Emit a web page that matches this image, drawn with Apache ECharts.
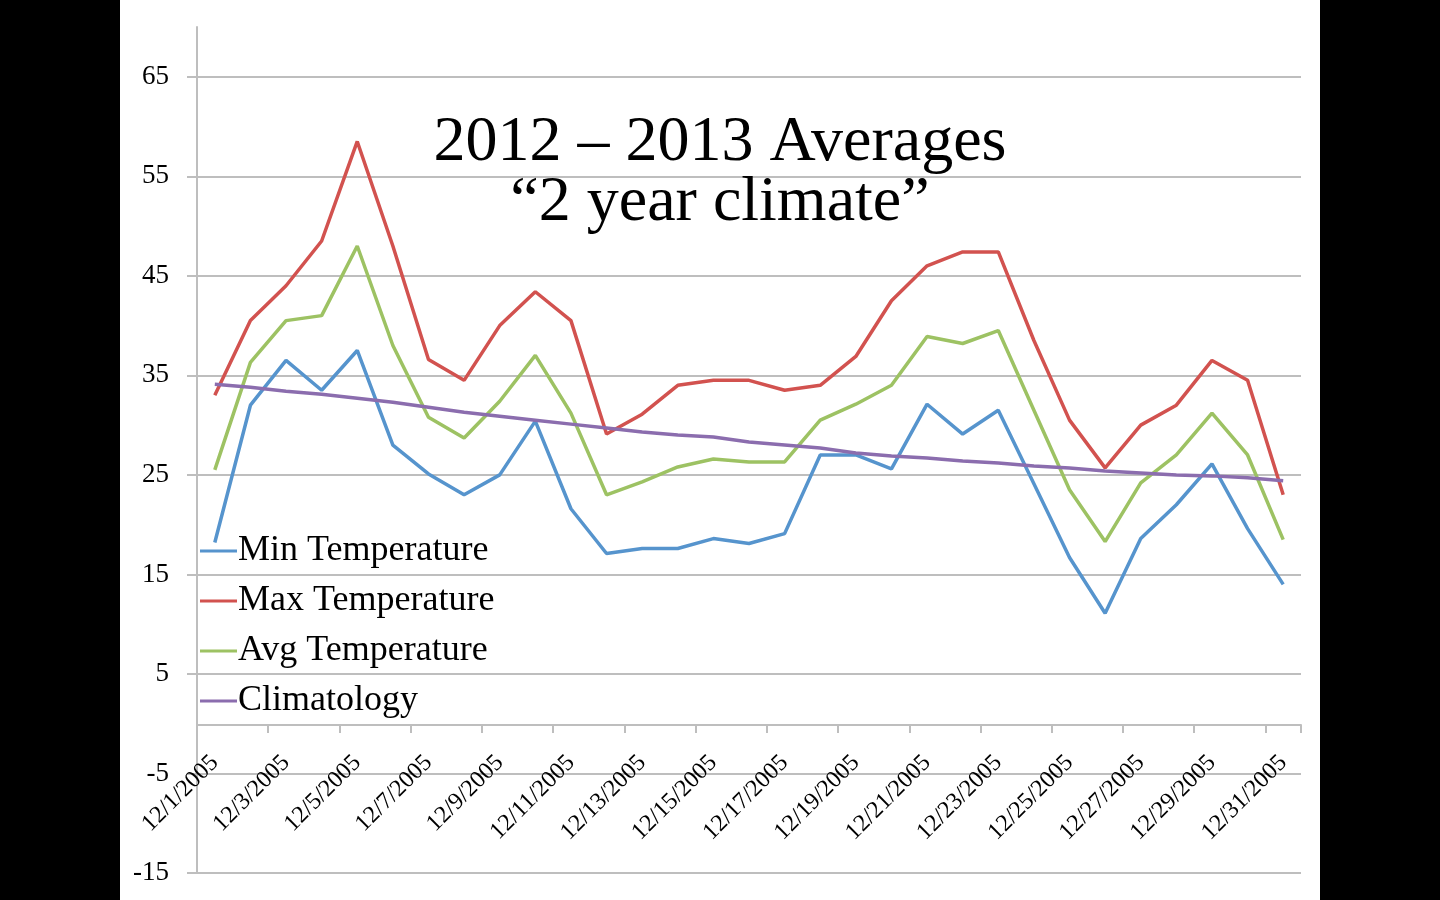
<!DOCTYPE html>
<html>
<head>
<meta charset="utf-8">
<script src="https://cdn.jsdelivr.net/npm/echarts@6/dist/echarts.min.js"></script>
<style>
html,body{margin:0;padding:0;background:#000;width:1440px;height:900px;overflow:hidden;}
#chart{position:absolute;left:120px;top:0;width:1200px;height:900px;background:#fff;}
</style>
</head>
<body>
<div id="chart"></div>
<script>
const categories = ["12/1/2005","12/2/2005","12/3/2005","12/4/2005","12/5/2005","12/6/2005","12/7/2005","12/8/2005","12/9/2005","12/10/2005","12/11/2005","12/12/2005","12/13/2005","12/14/2005","12/15/2005","12/16/2005","12/17/2005","12/18/2005","12/19/2005","12/20/2005","12/21/2005","12/22/2005","12/23/2005","12/24/2005","12/25/2005","12/26/2005","12/27/2005","12/28/2005","12/29/2005","12/30/2005","12/31/2005"];
const minTemp = [18.2,32,36.5,33.5,37.5,28,25.1,23,25,30.4,21.6,17.1,17.6,17.6,18.6,18.1,19.1,27,27,25.6,32.1,29.1,31.5,24.1,16.7,11.1,18.6,22,26.1,19.6,14];
const maxTemp = [33,40.5,44,48.5,58.5,48,36.6,34.5,40,43.4,40.5,29.1,31.1,34,34.5,34.5,33.5,34,36.9,42.5,46,47.4,47.4,38.5,30.5,25.7,30,32,36.5,34.5,23];
const avgTemp = [25.5,36.3,40.5,41,48,38,30.8,28.7,32.4,37,31.2,23,24.3,25.8,26.6,26.3,26.3,30.5,32.1,34,38.9,38.2,39.5,31.5,23.5,18.3,24.2,27,31.2,27,18.5];
const climatology = [34.1,33.8,33.4,33.1,32.7,32.3,31.8,31.3,30.9,30.5,30.1,29.7,29.3,29.0,28.8,28.3,28.0,27.7,27.2,26.9,26.7,26.4,26.2,25.9,25.7,25.4,25.2,25.0,24.9,24.7,24.4];
const seriesNames = ["Min Temperature","Max Temperature","Avg Temperature","Climatology"];
const titleText = "2012 – 2013 Averages\n“2 year climate”";

const font = "'Liberation Serif', 'DejaVu Serif', serif";
const colors = ["#5694CD","#D2524F","#9DC263","#8B6DAE"];
const chart = echarts.init(document.getElementById('chart'));
const dataSets = [minTemp, maxTemp, avgTemp, climatology];
chart.setOption({
  animation: false,
  color: colors,
  title: {
    text: titleText,
    left: 'center',
    top: 108,
    textStyle: {fontFamily: font, fontSize: 64, fontWeight: 'normal', color: '#000', lineHeight: 60}
  },
  legend: {
    orient: 'vertical',
    left: 80,
    top: 532,
    padding: 0,
    itemGap: 12,
    itemWidth: 37,
    itemHeight: 3,
    icon: 'rect',
    data: seriesNames,
    textStyle: {fontFamily: font, fontSize: 36, color: '#000', lineHeight: 38, padding: [0,0,0,-4]}
  },
  grid: {left: 77, right: 19, top: 27, bottom: 27, containLabel: false, outerBoundsMode: 'none'},
  xAxis: {
    type: 'category',
    data: categories,
    boundaryGap: true,
    position: 'bottom',
    offset: -148,
    axisLine: {onZero: false, lineStyle: {color: '#BEBEBE', width: 2}},
    axisTick: {show: true, interval: 1, length: 8, lineStyle: {color: '#BEBEBE', width: 2}},
    axisLabel: {interval: 1, rotate: 45, margin: 34, fontFamily: font, fontSize: 24, color: '#000'},
    splitLine: {show: false}
  },
  yAxis: {
    type: 'value',
    min: -15,
    max: 70,
    interval: 10,
    axisLine: {show: true, lineStyle: {color: '#BEBEBE', width: 2}},
    axisTick: {show: true, inside: false, length: 10, lineStyle: {color: '#BEBEBE', width: 2}},
    axisLabel: {showMaxLabel: false, margin: 28, fontFamily: font, fontSize: 27, color: '#000'},
    splitLine: {show: true, showMaxLine: false, lineStyle: {color: '#BEBEBE', width: 2}}
  },
  series: seriesNames.map((n, i) => ({
    name: n,
    type: 'line',
    data: dataSets[i],
    showSymbol: false,
    symbol: 'none',
    smooth: false,
    lineStyle: {width: 3.5, color: colors[i]}
  }))
});
</script>
</body>
</html>
